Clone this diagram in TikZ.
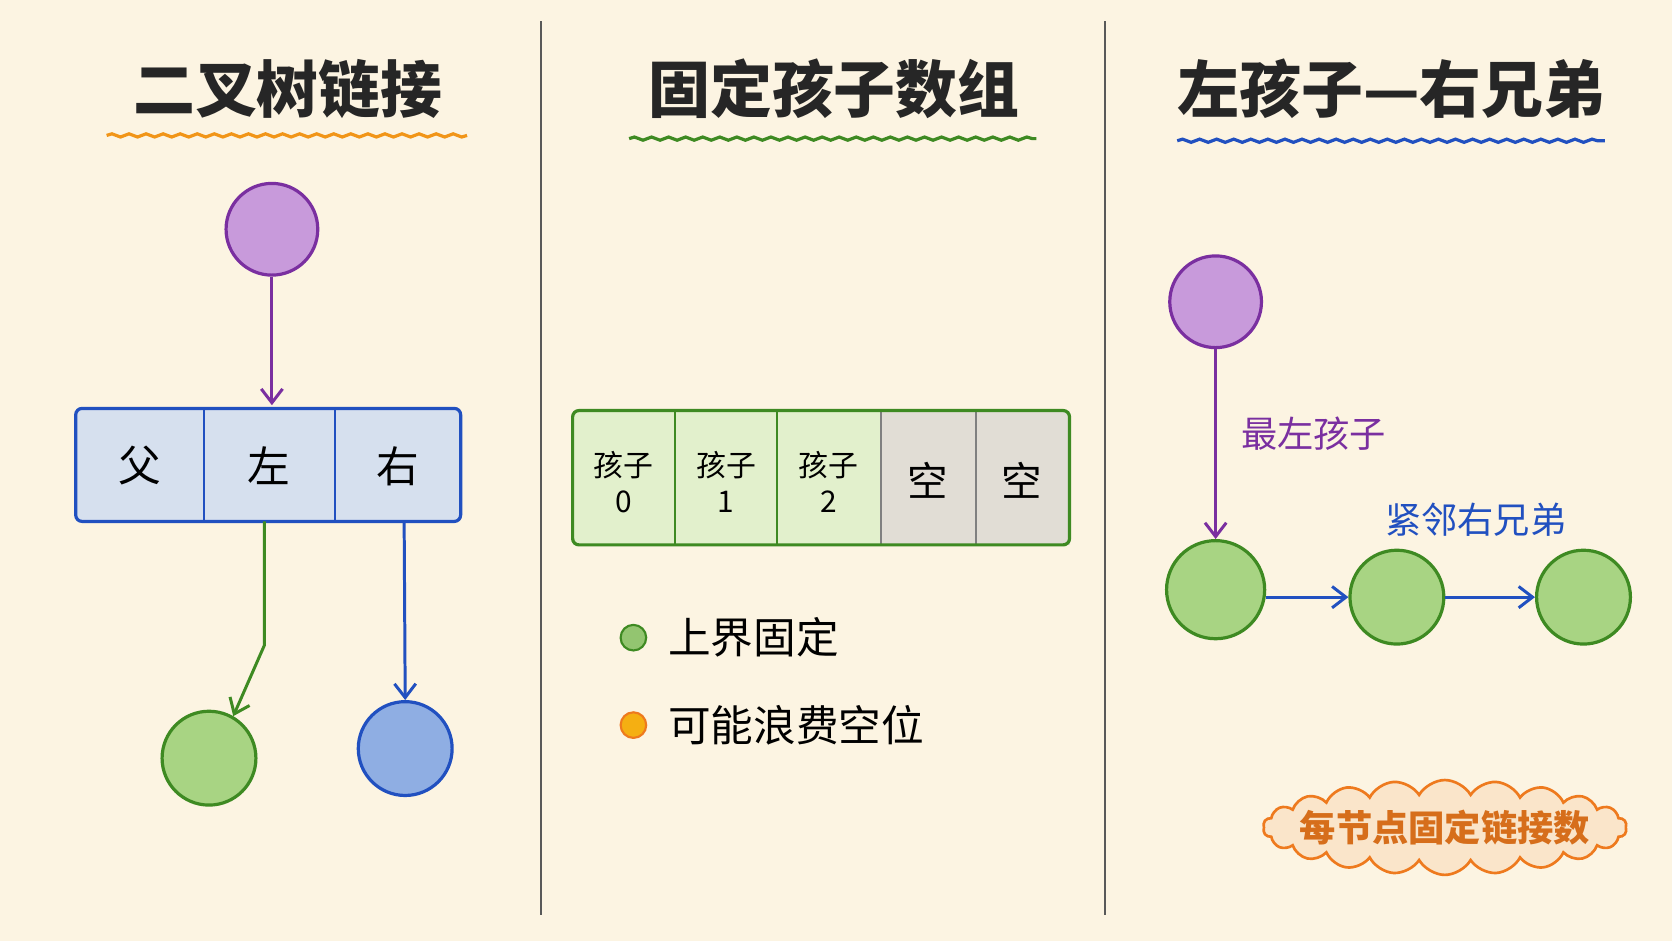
\documentclass[tikz,border=0pt]{standalone}
\usepackage{fontspec}
\setmainfont{Noto Sans CJK SC}
\usetikzlibrary{arrows.meta,shapes.symbols,decorations.pathmorphing}
\definecolor{bg}{HTML}{FCF4E2}
\definecolor{purp}{HTML}{7A2FA0}
\definecolor{purpf}{HTML}{C89ADB}
\definecolor{grn}{HTML}{3E8A22}
\definecolor{grnf}{HTML}{A8D483}
\definecolor{blu}{HTML}{2150C0}
\definecolor{bluf}{HTML}{8FAEE3}
\definecolor{org}{HTML}{EE7A1E}
\definecolor{cellb}{HTML}{D6E0EE}
\definecolor{cellg}{HTML}{E2F0CC}
\definecolor{cellx}{HTML}{E1DDD5}
\tikzset{
  ttl/.style={font=\fontsize{58}{62}\bfseries\selectfont, text=black!85},
  wave/.style={line width=3pt, decorate, decoration={snake, amplitude=1.5pt, segment length=16pt}},
  circ/.style={circle, line width=3pt, minimum size=#1},
  arr/.style={line width=2.8pt, -{Straight Barb[length=13pt,width=20pt]}},
  cell/.style={draw=#1, line width=2pt},
  txt/.style={font=\fontsize{34}{38}\selectfont},
  small/.style={font=\fontsize{28}{34}\selectfont}
}
\begin{document}
\begin{tikzpicture}[x=1pt,y=-1pt]
\fill[bg] (0,0) rectangle (1568,882);
\useasboundingbox (0,0) rectangle (1568,882);
\draw[gray!70!black, line width=2pt] (507,20) -- (507,858) (1036,20) -- (1036,858);

% titles
\node[ttl] (t1) at (270,83) {二叉树链接};
\node[ttl] (t2) at (782,83) {固定孩子数组};
\node[ttl] (t3) at (1305,83) {左孩子—右兄弟};
\draw[wave, org!80!yellow] (100,127) -- (438,127);
\draw[wave, grn] (590,130) -- (972,130);
\draw[wave, blu] (1104,132) -- (1505,132);

% binary tree link
\node[circ=86pt, draw=purp, fill=purpf] (p1) at (255,215) {};
\draw[cell=blu, fill=cellb, line width=3pt, rounded corners=6pt] (71,383) rectangle (432,489);
\draw[cell=blu] (191,383) -- (191,489) (314,383) -- (314,489);
\node[txt, font=\fontsize{40}{44}\selectfont] (fa) at (131,437) {父};
\node[txt, font=\fontsize{40}{44}\selectfont] (zuo) at (252,437) {左};
\node[txt, font=\fontsize{40}{44}\selectfont] (you) at (373,437) {右};
\coordinate (lt) at (255,380);
\draw[arr, purp] (p1) -- (lt);
\node[circ=88pt, draw=grn, fill=grnf] (lc) at (196,711) {};
\node[circ=88pt, draw=blu, fill=bluf] (rc) at (380,702) {};
\coordinate (ls) at (248,489);
\coordinate (lb) at (248,605);
\coordinate (rs) at (379,489);
\draw[arr, grn] (ls) -- (lb) -- (lc.60);
\draw[arr, blu] (rs) -- (rc.north);

% fixed array
\fill[cellg] (537,385) rectangle (826,511);
\fill[cellx] (826,385) rectangle (1003,511);
\draw[cell=grn] (633,385) -- (633,511) (729,385) -- (729,511);
\draw[cell=black!50] (826,385) -- (826,511) (915,385) -- (915,511);
\draw[grn, line width=3pt, rounded corners=6pt] (537,385) rectangle (1003,511);
\foreach \i/\x in {0/585,1/681,2/777}
  \node[small, align=center] (c\i) at (\x,452) {孩子\\\i};
\node[txt, font=\fontsize{38}{42}\selectfont] (e1) at (870,450) {空};
\node[txt, font=\fontsize{38}{42}\selectfont] (e2) at (958,450) {空};
\node[circle, draw=grn, fill=grnf!80!grn, line width=2pt, minimum size=24pt] (d1) at (594,598) {};
\node[circle, draw=org, fill=org!60!yellow, line width=2pt, minimum size=24pt] (d2) at (594,680) {};
\node[txt, anchor=west, font=\fontsize{40}{44}\selectfont] (l1) at (623,598) {上界固定};
\node[txt, anchor=west, font=\fontsize{40}{44}\selectfont] (l2) at (623,680) {可能浪费空位};

% left child right sibling
\node[circ=86pt, draw=purp, fill=purpf] (p3) at (1140,283) {};
\node[circ=92pt, draw=grn, fill=grnf] (s1) at (1140,553) {};
\node[circ=88pt, draw=grn, fill=grnf] (s2) at (1310,560) {};
\node[circ=88pt, draw=grn, fill=grnf] (s3) at (1485,560) {};
\draw[arr, purp] (p3) -- (s1);
\draw[arr, blu] (s1.east |- s2) -- (s2);
\draw[arr, blu] (s2) -- (s3);
\node[txt, text=purp] (lb1) at (1232,407) {最左孩子};
\node[txt, text=blu] (lb2) at (1384,487) {紧邻右兄弟};
\node[cloud, cloud puffs=22, cloud puff arc=120, aspect=5.5, draw=org, fill=org!12!bg, line width=2.5pt, inner sep=-16pt, txt, font=\fontsize{34}{38}\bfseries\selectfont, text=org!90!black] (note) at (1355,776) {每节点固定链接数};
\end{tikzpicture}
\end{document}
